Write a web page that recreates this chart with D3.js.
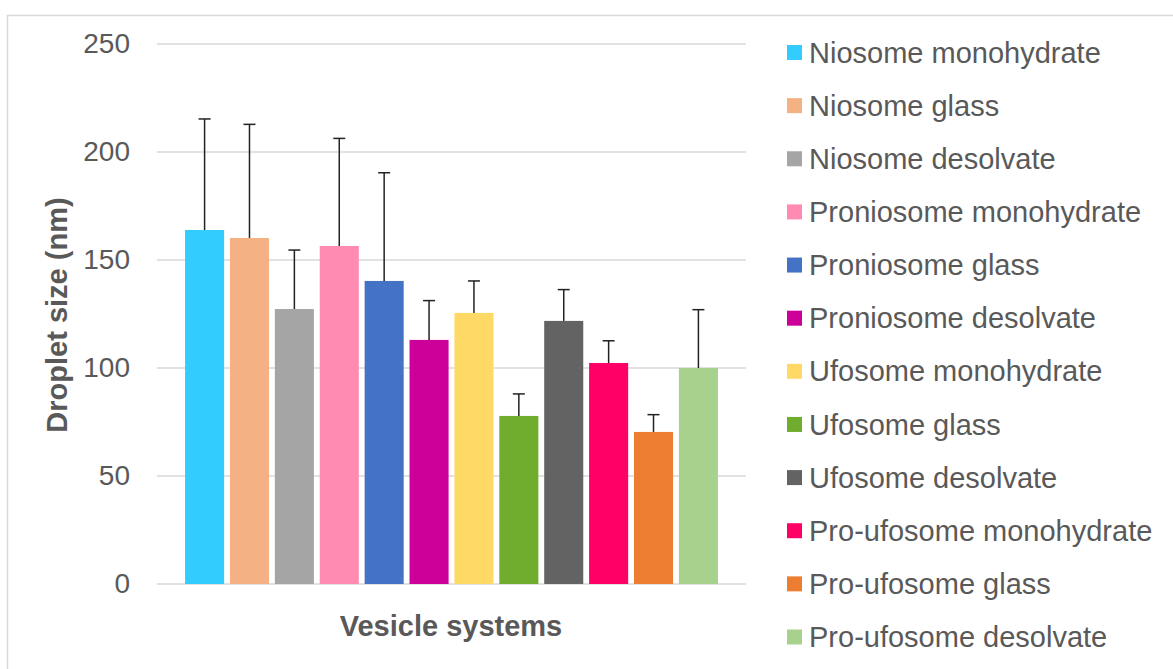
<!DOCTYPE html>
<html><head><meta charset="utf-8">
<script src="https://cdn.jsdelivr.net/npm/d3@7"></script>
<style>body{margin:0;background:#fff;}svg{display:block;font-family:"Liberation Sans",Arial,sans-serif;}</style>
</head><body><svg id="c" width="1173" height="669"></svg>
<script>
const categories = ["Niosome monohydrate","Niosome glass","Niosome desolvate","Proniosome monohydrate","Proniosome glass","Proniosome desolvate","Ufosome monohydrate","Ufosome glass","Ufosome desolvate","Pro-ufosome monohydrate","Pro-ufosome glass","Pro-ufosome desolvate"];
const values = [163.9,160.2,127.3,156.5,140.3,113.0,125.5,77.8,121.8,102.3,70.4,100.0];
const errors = [51.4,52.6,27.3,49.8,50.1,18.2,14.8,10.2,14.5,10.3,8.0,27.0];
const colors = ["#33CCFF","#F4B183","#A5A5A5","#FF8BB3","#4472C4","#CC0099","#FFD966","#70AD2F","#636363","#FF0066","#ED7D31","#A9D18E"];
const yTicks = [0,50,100,150,200,250];

const svg = d3.select("#c");
svg.append("rect").attr("x",7.5).attr("y",15.5).attr("width",1180).attr("height",670)
  .attr("fill","none").attr("stroke","#d9d9d9").attr("stroke-width",1.5);

const y = d3.scaleLinear().domain([0,250]).range([584,44]);
const x = d3.scaleBand().domain(categories).range([157,746]).paddingInner(0.13).paddingOuter(0.625);

const g = svg.append("g");
g.selectAll("line.grid").data(yTicks).join("line").attr("class","grid")
  .attr("x1",157).attr("x2",746).attr("y1",d=>y(d)).attr("y2",d=>y(d))
  .attr("stroke","#d9d9d9").attr("stroke-width",1.5);

const yAxis = g.append("g").attr("transform","translate(157,0)")
  .call(d3.axisLeft(y).tickValues(yTicks).tickSize(0).tickPadding(27));
yAxis.select(".domain").remove();
yAxis.selectAll("text").attr("font-size",28).attr("fill","#595959").attr("font-family","Liberation Sans, Arial, sans-serif");

g.selectAll("rect.bar").data(values).join("rect").attr("class","bar")
  .attr("x",(d,i)=>x(categories[i])).attr("width",x.bandwidth())
  .attr("y",d=>y(d)).attr("height",d=>y(0)-y(d))
  .attr("fill",(d,i)=>colors[i]);

const eb = g.selectAll("g.err").data(values).join("g").attr("class","err");
eb.append("line")
  .attr("x1",(d,i)=>x(categories[i])+x.bandwidth()/2).attr("x2",(d,i)=>x(categories[i])+x.bandwidth()/2)
  .attr("y1",d=>y(d)).attr("y2",(d,i)=>y(d+errors[i]))
  .attr("stroke","#222").attr("stroke-width",1.5);
eb.append("line")
  .attr("x1",(d,i)=>x(categories[i])+x.bandwidth()/2-6).attr("x2",(d,i)=>x(categories[i])+x.bandwidth()/2+6)
  .attr("y1",(d,i)=>y(d+errors[i])).attr("y2",(d,i)=>y(d+errors[i]))
  .attr("stroke","#222").attr("stroke-width",1.5);

svg.append("text").attr("x",451).attr("y",636).attr("text-anchor","middle")
  .attr("font-size",29).attr("font-weight","bold").attr("fill","#595959").text("Vesicle systems");
svg.append("text").attr("transform","translate(67,315) rotate(-90)").attr("text-anchor","middle")
  .attr("font-size",29).attr("font-weight","bold").attr("fill","#595959").text("Droplet size (nm)");

const leg = svg.append("g");
const ly = d3.scalePoint().domain(categories).range([52.5,637]);
const li = leg.selectAll("g").data(categories).join("g").attr("transform",d=>`translate(787,${ly(d)})`);
li.append("rect").attr("x",0).attr("y",-7.5).attr("width",15).attr("height",15).attr("fill",(d,i)=>colors[i]);
li.append("text").attr("x",22).attr("y",0).attr("dy","0.35em").attr("font-size",29).attr("fill","#595959").text(d=>d);
</script></body></html>
